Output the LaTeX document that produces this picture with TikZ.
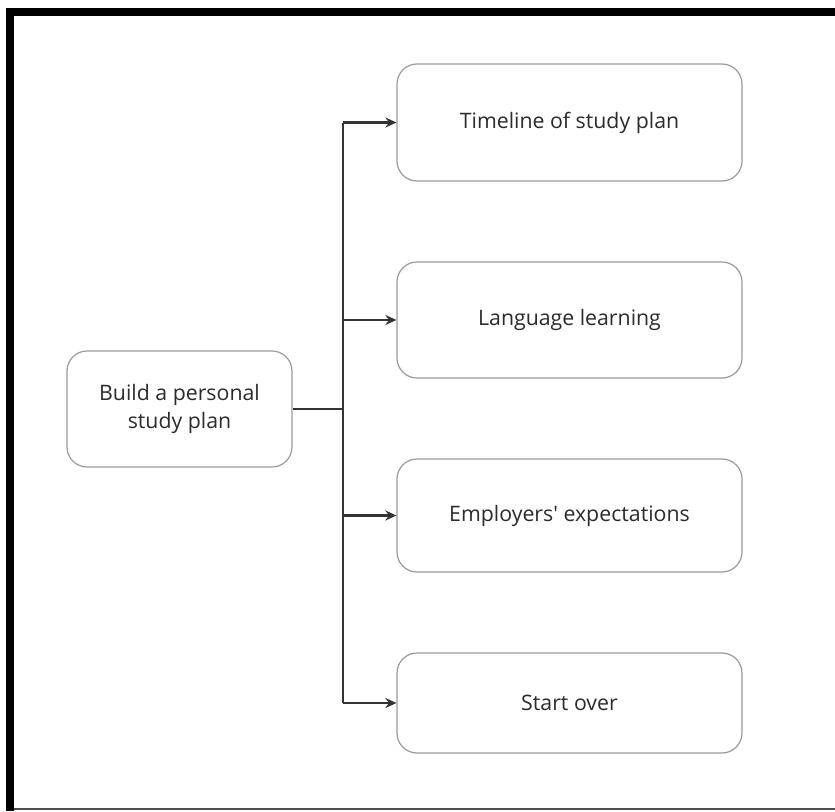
\documentclass[tikz,border=0pt]{standalone}
\usepackage{fontspec}
\setmainfont{Open Sans}
\usetikzlibrary{arrows.meta}
\definecolor{boxline}{HTML}{9A9A9A}
\definecolor{linkline}{HTML}{333333}
\definecolor{txt}{HTML}{2B2B2B}
\begin{document}
\begin{tikzpicture}[x=1pt,y=-1pt,
  card/.style={draw=boxline, line width=1.2pt, rounded corners=20pt, fill=white,
    text=txt, font=\fontsize{21.3}{28}\selectfont, align=center, inner sep=0pt},
  link/.style={draw=linkline, line width=2.6pt},
  arrowlink/.style={link, -{Stealth[length=11pt,width=10pt]}}]
  % page and frame
  \useasboundingbox (0,0) rectangle (835,811);
  \fill[white] (0,0) rectangle (835,811);
  \fill[black] (6,8) rectangle (835,16);
  \fill[black] (6,8) rectangle (14,811);
  \fill[black!70] (14,808) rectangle (835,810);

  % boxes
  \node[card, minimum width=225pt, minimum height=116pt] (root) at (179.5,409) {Build a personal\\study plan};
  \node[card, minimum width=345pt, minimum height=117pt] (t1) at (569.5,122.5) {Timeline of study plan};
  \node[card, minimum width=345pt, minimum height=116pt] (t2) at (569.5,320) {Language learning};
  \node[card, minimum width=345pt, minimum height=113pt] (t3) at (569.5,515.5) {Employers\textquotesingle{} expectations};
  \node[card, minimum width=345pt, minimum height=100pt] (t4) at (569.5,703) {Start over};

  % trunk junctions
  \coordinate (j0) at (343,409);
  \coordinate (j1) at (343,122.5);
  \coordinate (j4) at (343,703);

  % connectors
  \draw[link] (root.east) -- (j0);
  \draw[link, line join=round] (j1) -- (j4);
  \draw[arrowlink] (j1) -- (t1.west);
  \draw[arrowlink] (j1 |- t2.west) -- (t2.west);
  \draw[arrowlink] (j1 |- t3.west) -- (t3.west);
  \draw[arrowlink] (j4) -- (t4.west);
\end{tikzpicture}
\end{document}
